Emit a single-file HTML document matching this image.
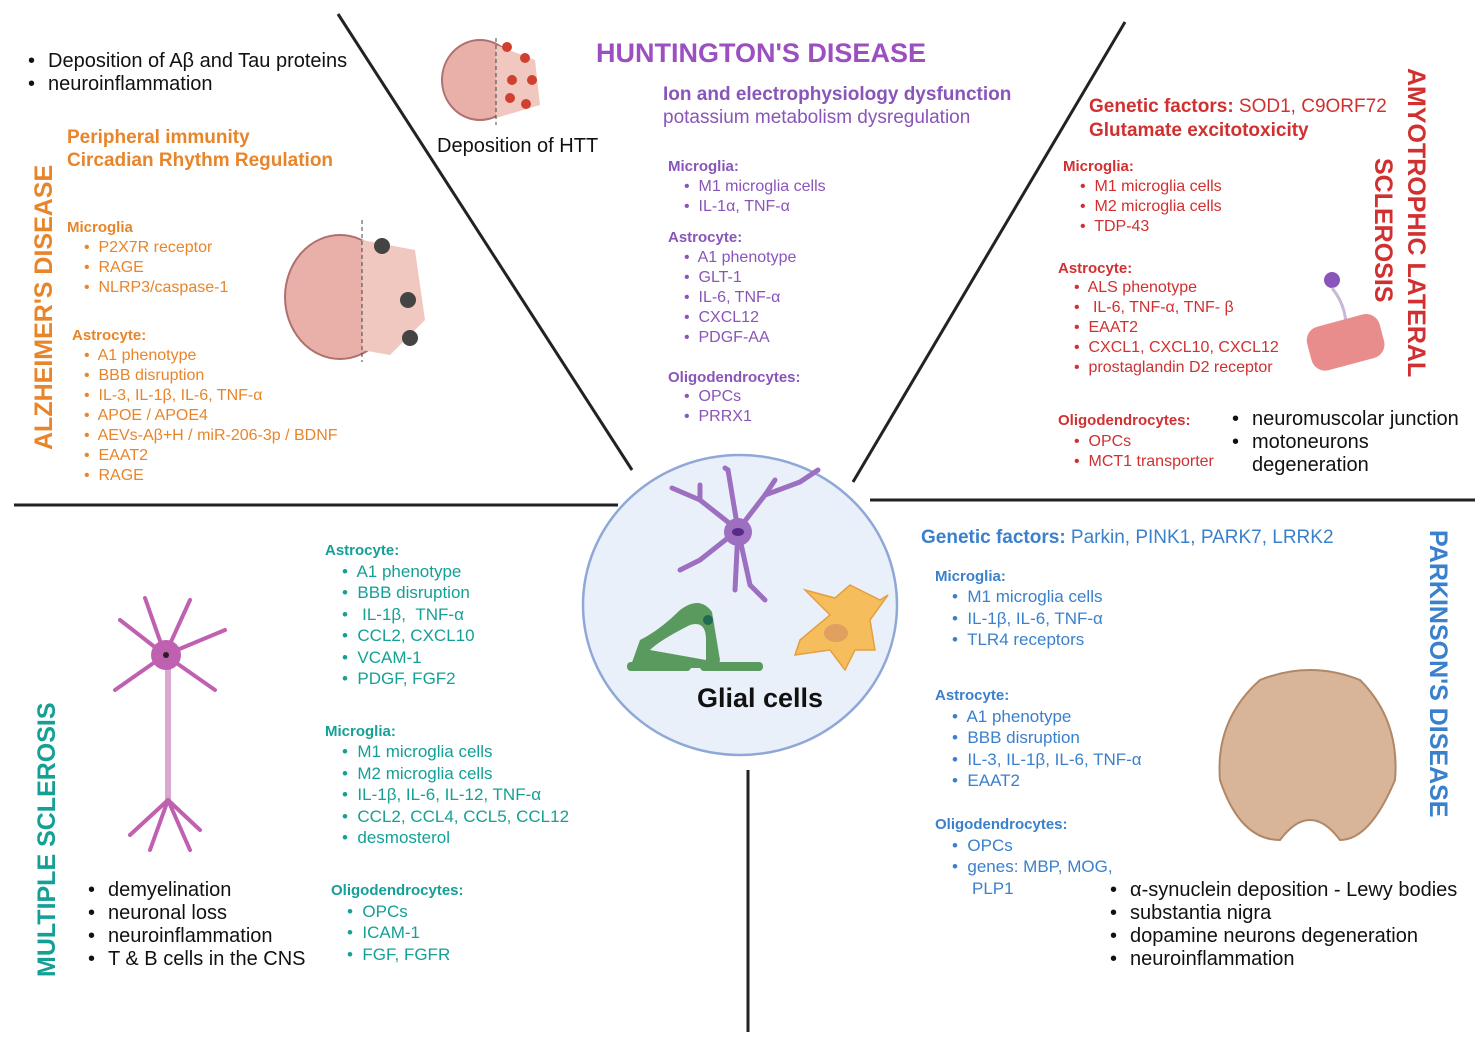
<!DOCTYPE html>
<html><head><meta charset="utf-8"><style>
html,body{margin:0;padding:0;background:#fff}
svg{display:block}
text{font-family:"Liberation Sans",sans-serif;white-space:pre}
.b{font-size:16px}
.h{font-size:15px;font-weight:bold}
.k{fill:#111;font-size:20px}
</style></head><body>
<svg width="1479" height="1046" viewBox="0 0 1479 1046" xmlns="http://www.w3.org/2000/svg" xml:space="preserve">
<rect width="1479" height="1046" fill="#fff"/>
<g stroke="#222" stroke-width="3" fill="none">
<line x1="338" y1="14" x2="632" y2="470"/>
<line x1="1125" y1="22" x2="853" y2="482"/>
<line x1="14" y1="505" x2="618" y2="505"/>
<line x1="870" y1="500" x2="1475" y2="500"/>
<line x1="748" y1="770" x2="748" y2="1032"/>
</g>
<ellipse cx="740" cy="605" rx="157" ry="150" fill="#eaf0fa" stroke="#8fa8d8" stroke-width="2.5"/>
<g stroke="#9c6fc0" stroke-width="5" stroke-linecap="round" fill="none">
<path d="M738 530 L700 500 L672 488"/><path d="M738 530 L728 470 L725 468"/><path d="M738 530 L765 495 L800 482 L818 470"/><path d="M738 530 L700 560 L680 570"/><path d="M738 530 L750 585 L765 600"/><path d="M738 530 L735 590"/><path d="M700 500 L700 485"/><path d="M765 495 L775 480"/>
</g>
<circle cx="738" cy="532" r="14" fill="#9c6fc0"/><ellipse cx="738" cy="532" rx="6" ry="4" fill="#5a2a88"/>
<path d="M630 668 L640 640 Q660 630 680 610 Q700 595 712 612 L720 660 L718 668 Z" fill="#5a9a5e"/>
<path d="M650 650 Q660 640 690 625 Q706 620 706 640 L706 660 Z" fill="#eaf0fa"/>
<rect x="627" y="662" width="64" height="9" rx="4" fill="#5a9a5e"/>
<rect x="700" y="662" width="63" height="9" rx="4" fill="#5a9a5e"/>
<circle cx="708" cy="620" r="5" fill="#1f6a50"/>
<path d="M800 640 L830 615 L805 590 L835 598 L850 585 L880 600 L888 595 L870 620 L875 650 L855 650 L845 670 L830 650 L795 655 Z" fill="#f6bd5c" stroke="#e3a040" stroke-width="1.5"/>
<ellipse cx="836" cy="633" rx="12" ry="9" fill="#e0a060"/>
<text x="760" y="707" text-anchor="middle" style="font-size:27px;font-weight:bold" fill="#111">Glial cells</text>

<text class="k" x="28" y="67">•</text><text class="k" x="48" y="67">Deposition of Aβ and Tau proteins</text>
<text class="k" x="28" y="90">•</text><text class="k" x="48" y="90">neuroinflammation</text>
<g fill="#e8852a">
<text x="67" y="143" style="font-size:19px;font-weight:bold">Peripheral immunity</text>
<text x="67" y="166" style="font-size:19px;font-weight:bold">Circadian Rhythm Regulation</text>
<text class="h" x="67" y="232">Microglia</text>
<text class="b" x="84" y="252">•  P2X7R receptor</text>
<text class="b" x="84" y="272">•  RAGE</text>
<text class="b" x="84" y="292">•  NLRP3/caspase-1</text>
<text class="h" x="72" y="340">Astrocyte:</text>
<text class="b" x="84" y="360">•  A1 phenotype</text>
<text class="b" x="84" y="380">•  BBB disruption</text>
<text class="b" x="84" y="400">•  IL-3, IL-1β, IL-6, TNF-α</text>
<text class="b" x="84" y="420">•  APOE / APOE4</text>
<text class="b" x="84" y="440">•  AEVs-Aβ+H / miR-206-3p / BDNF</text>
<text class="b" x="84" y="460">•  EAAT2</text>
<text class="b" x="84" y="480">•  RAGE</text>
<text transform="translate(52,450) rotate(-90)" style="font-size:25px;font-weight:bold">ALZHEIMER'S DISEASE</text>
</g>
<ellipse cx="340" cy="297" rx="55" ry="62" fill="#e8b0a8" stroke="#b07070" stroke-width="2"/>
<path d="M362 240 L415 250 L425 320 L390 355 L362 350 Z" fill="#f0c8c0"/>
<line x1="362" y1="220" x2="362" y2="362" stroke="#444" stroke-dasharray="4 3"/>
<circle cx="382" cy="246" r="8" fill="#444"/><circle cx="408" cy="300" r="8" fill="#444"/><circle cx="410" cy="338" r="8" fill="#444"/>

<ellipse cx="480" cy="80" rx="38" ry="40" fill="#e8b0a8" stroke="#b07070" stroke-width="2"/>
<path d="M496 45 L535 60 L540 105 L496 118 Z" fill="#f0c8c0"/>
<line x1="496" y1="38" x2="496" y2="125" stroke="#444" stroke-dasharray="4 3"/>
<g fill="#d04030"><circle cx="507" cy="47" r="5"/><circle cx="525" cy="58" r="5"/><circle cx="532" cy="80" r="5"/><circle cx="512" cy="80" r="5"/><circle cx="510" cy="98" r="5"/><circle cx="526" cy="104" r="5"/></g>
<text class="k" x="437" y="152">Deposition of HTT</text>
<g fill="#8a55b8">
<text x="596" y="62" style="font-size:27px;font-weight:bold" fill="#9b4fc0">HUNTINGTON'S DISEASE</text>
<text x="663" y="100" style="font-size:19px;font-weight:bold">Ion and electrophysiology dysfunction</text>
<text x="663" y="123" style="font-size:19px">potassium metabolism dysregulation</text>
<text class="h" x="668" y="171">Microglia:</text>
<text class="b" x="684" y="191">•  M1 microglia cells</text>
<text class="b" x="684" y="211">•  IL-1α, TNF-α</text>
<text class="h" x="668" y="242">Astrocyte:</text>
<text class="b" x="684" y="262">•  A1 phenotype</text>
<text class="b" x="684" y="282">•  GLT-1</text>
<text class="b" x="684" y="302">•  IL-6, TNF-α</text>
<text class="b" x="684" y="322">•  CXCL12</text>
<text class="b" x="684" y="342">•  PDGF-AA</text>
<text class="h" x="668" y="382">Oligodendrocytes:</text>
<text class="b" x="684" y="401">•  OPCs</text>
<text class="b" x="684" y="421">•  PRRX1</text>
</g>

<g fill="#d03030">
<text x="1089" y="112" style="font-size:19px"><tspan font-weight="bold">Genetic factors:</tspan> SOD1, C9ORF72</text>
<text x="1089" y="136" style="font-size:19px;font-weight:bold">Glutamate excitotoxicity</text>
<text class="h" x="1063" y="171">Microglia:</text>
<text class="b" x="1080" y="191">•  M1 microglia cells</text>
<text class="b" x="1080" y="211">•  M2 microglia cells</text>
<text class="b" x="1080" y="231">•  TDP-43</text>
<text class="h" x="1058" y="273">Astrocyte:</text>
<text class="b" x="1074" y="292">•  ALS phenotype</text>
<text class="b" x="1074" y="312">•   IL-6, TNF-α, TNF- β</text>
<text class="b" x="1074" y="332">•  EAAT2</text>
<text class="b" x="1074" y="352">•  CXCL1, CXCL10, CXCL12</text>
<text class="b" x="1074" y="372">•  prostaglandin D2 receptor</text>
<text class="h" x="1058" y="425">Oligodendrocytes:</text>
<text class="b" x="1074" y="446">•  OPCs</text>
<text class="b" x="1074" y="466">•  MCT1 transporter</text>
<text transform="translate(1408,68) rotate(90)" style="font-size:25px;font-weight:bold">AMYOTROPHIC LATERAL</text>
<text transform="translate(1375,158) rotate(90)" style="font-size:25px;font-weight:bold">SCLEROSIS</text>
</g>
<text class="k" x="1232" y="425">•</text><text class="k" x="1252" y="425">neuromuscolar junction</text>
<text class="k" x="1232" y="448">•</text><text class="k" x="1252" y="448">motoneurons</text>
<text class="k" x="1252" y="471">degeneration</text>
<circle cx="1332" cy="280" r="8" fill="#8a55b8"/>
<path d="M1332 288 Q1350 310 1345 340" stroke="#c9b8d8" stroke-width="3" fill="none"/>
<rect x="1308" y="320" width="75" height="45" rx="14" fill="#e88c8c" transform="rotate(-15 1345 342)"/>

<g fill="#14a096">
<text class="h" x="325" y="555">Astrocyte:</text>
<g style="font-size:17px">
<text x="342" y="577">•  A1 phenotype</text>
<text x="342" y="598">•  BBB disruption</text>
<text x="342" y="620">•   IL-1β,  TNF-α</text>
<text x="342" y="641">•  CCL2, CXCL10</text>
<text x="342" y="663">•  VCAM-1</text>
<text x="342" y="684">•  PDGF, FGF2</text>
<text x="342" y="757">•  M1 microglia cells</text>
<text x="342" y="779">•  M2 microglia cells</text>
<text x="342" y="800">•  IL-1β, IL-6, IL-12, TNF-α</text>
<text x="342" y="822">•  CCL2, CCL4, CCL5, CCL12</text>
<text x="342" y="843">•  desmosterol</text>
<text x="347" y="917">•  OPCs</text>
<text x="347" y="938">•  ICAM-1</text>
<text x="347" y="960">•  FGF, FGFR</text>
</g>
<text class="h" x="325" y="736">Microglia:</text>
<text class="h" x="331" y="895">Oligodendrocytes:</text>
<text transform="translate(55,977) rotate(-90)" style="font-size:25px;font-weight:bold">MULTIPLE SCLEROSIS</text>
</g>
<g stroke="#c060b0" stroke-width="4" fill="none" stroke-linecap="round">
<path d="M165 655 L120 620"/><path d="M165 655 L145 598"/><path d="M165 655 L190 600"/><path d="M165 655 L225 630"/><path d="M165 655 L115 690"/><path d="M165 655 L215 690"/>
<path d="M168 660 L168 800" stroke="#d8a8d0" stroke-width="6"/>
<path d="M168 800 L150 850 M168 800 L190 850 M168 800 L130 835 M168 800 L200 830"/>
</g>
<circle cx="166" cy="655" r="15" fill="#c060b0"/><circle cx="166" cy="655" r="3" fill="#222"/>
<text class="k" x="88" y="896">•</text><text class="k" x="108" y="896">demyelination</text>
<text class="k" x="88" y="919">•</text><text class="k" x="108" y="919">neuronal loss</text>
<text class="k" x="88" y="942">•</text><text class="k" x="108" y="942">neuroinflammation</text>
<text class="k" x="88" y="965">•</text><text class="k" x="108" y="965">T &amp; B cells in the CNS</text>

<g fill="#3a80cc">
<text x="921" y="543" style="font-size:19px"><tspan font-weight="bold">Genetic factors:</tspan> Parkin, PINK1, PARK7, LRRK2</text>
<text class="h" x="935" y="581">Microglia:</text>
<g style="font-size:17px">
<text x="952" y="602">•  M1 microglia cells</text>
<text x="952" y="624">•  IL-1β, IL-6, TNF-α</text>
<text x="952" y="645">•  TLR4 receptors</text>
<text x="952" y="722">•  A1 phenotype</text>
<text x="952" y="743">•  BBB disruption</text>
<text x="952" y="765">•  IL-3, IL-1β, IL-6, TNF-α</text>
<text x="952" y="786">•  EAAT2</text>
<text x="952" y="851">•  OPCs</text>
<text x="952" y="872">•  genes: MBP, MOG,</text>
<text x="972" y="894">PLP1</text>
</g>
<text class="h" x="935" y="700">Astrocyte:</text>
<text class="h" x="935" y="829">Oligodendrocytes:</text>
<text transform="translate(1430,530) rotate(90)" style="font-size:25px;font-weight:bold">PARKINSON'S DISEASE</text>
</g>
<path d="M1260 680 Q1310 660 1360 680 Q1400 720 1395 780 Q1370 840 1340 840 Q1310 800 1280 840 Q1240 840 1220 780 Q1215 720 1260 680 Z" fill="#d8b498" stroke="#b08868" stroke-width="2"/>
<text class="k" x="1110" y="896">•</text><text class="k" x="1130" y="896">α-synuclein deposition - Lewy bodies</text>
<text class="k" x="1110" y="919">•</text><text class="k" x="1130" y="919">substantia nigra</text>
<text class="k" x="1110" y="942">•</text><text class="k" x="1130" y="942">dopamine neurons degeneration</text>
<text class="k" x="1110" y="965">•</text><text class="k" x="1130" y="965">neuroinflammation</text>
</svg>
</body></html>
